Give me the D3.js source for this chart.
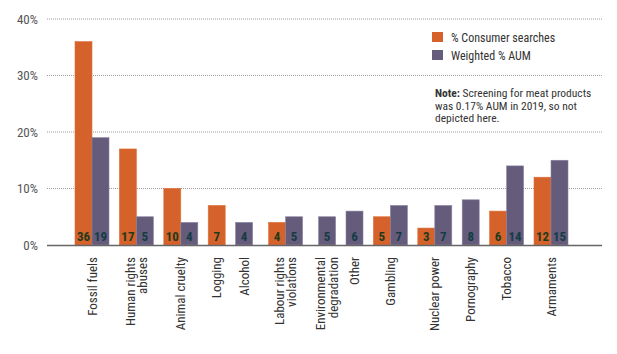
<!DOCTYPE html>
<html>
<head>
<meta charset="utf-8">
<script src="https://cdn.jsdelivr.net/npm/d3@7"></script>
<style>
  body { margin: 0; background: #fff; }
  text { font-family: "Liberation Sans Narrow", "Arial Narrow", "Roboto Condensed", "Liberation Sans", sans-serif; }
</style>
</head>
<body>
<svg id="chart"></svg>
<script>
let width = 617;
let height = 354;

// data (null = bar not drawn)
let categories = ["Fossil fuels", "Human rights abuses", "Animal cruelty", "Logging", "Alcohol",
    "Labour rights violations", "Environmental degradation", "Other", "Gambling",
    "Nuclear power", "Pornography", "Tobacco", "Armaments"];
let labelLines = [["Fossil fuels"], ["Human rights", "abuses"], ["Animal cruelty"], ["Logging"], ["Alcohol"],
    ["Labour rights", "violations"], ["Environmental", "degradation"], ["Other"], ["Gambling"],
    ["Nuclear power"], ["Pornography"], ["Tobacco"], ["Armaments"]];
let consumerSearches = [36, 17, 10, 7, null, 4, null, null, 5, 3, null, 6, 12];
let weightedAUM = [19, 5, 4, null, 4, 5, 5, 6, 7, 7, 8, 14, 15];
let yTicks = [0, 10, 20, 30, 40];
let seriesNames = ["% Consumer searches", "Weighted % AUM"];
let colors = ["#d4622a", "#655c7c"];
let labelColors = ["#1f3a1c", "#143b45"];

let plotLeft = 47, plotRight = 602, plotTop = 19, plotBottom = 245;

let svg = d3.select("#chart")
    .attr("width", width)
    .attr("height", height);

let y = d3.scaleLinear().domain([0, 40]).range([plotBottom, plotTop]);

// grid + y labels
svg.append("g")
    .selectAll("line")
    .data(yTicks.filter(d => d > 0))
    .enter().append("line")
    .attr("x1", plotLeft).attr("x2", plotRight)
    .attr("y1", d => y(d)).attr("y2", d => y(d))
    .attr("stroke", "#9a9a9a")
    .attr("stroke-width", 1)
    .attr("stroke-dasharray", "1,1");

svg.append("g")
    .selectAll("text")
    .data(yTicks)
    .enter().append("text")
    .attr("x", 38)
    .attr("y", d => y(d) + 4.5)
    .attr("text-anchor", "end")
    .attr("font-size", 13)
    .attr("fill", "#555")
    .text(d => d + "%");

// build bar list: only bars that exist take up space
let bars = [];
let groups = [];
let unit = 0;
let barW = 17, gap = 10.4, wideGap = 16;
let wideBefore = ["Labour rights violations", "Environmental degradation"];
categories.forEach(function (c, i) {
    if (i > 0) unit += (wideBefore.indexOf(c) >= 0 ? wideGap : gap);
    let start = unit;
    [consumerSearches[i], weightedAUM[i]].forEach(function (v, s) {
        if (v !== null) {
            bars.push({cat: c, series: s, value: v, pos: unit});
            unit += barW;
        }
    });
    groups.push({cat: c, lines: labelLines[i], center: (start + unit) / 2});
});

let x = d3.scaleLinear().domain([0, unit]).range([75, 75 + unit]);

svg.append("g")
    .selectAll("rect")
    .data(bars)
    .enter().append("rect")
    .attr("x", d => x(d.pos))
    .attr("y", d => y(d.value))
    .attr("width", barW)
    .attr("height", d => y(0) - y(d.value))
    .attr("fill", d => colors[d.series])
    .attr("stroke", d => d.series === 0 ? "#e0703a" : "#8a84a0")
    .attr("stroke-width", 0.6);

svg.append("g")
    .selectAll("text")
    .data(bars)
    .enter().append("text")
    .attr("x", d => x(d.pos) + barW / 2)
    .attr("y", 241)
    .attr("text-anchor", "middle")
    .attr("font-size", 13)
    .attr("font-weight", "bold")
    .attr("fill", d => labelColors[d.series])
    .text(d => d.value);

// baseline
svg.append("line")
    .attr("x1", plotLeft).attr("x2", plotRight)
    .attr("y1", y(0) + 0.5).attr("y2", y(0) + 0.5)
    .attr("stroke", "#666")
    .attr("stroke-width", 1.3);

// x labels, rotated
let xl = svg.append("g")
    .selectAll("text")
    .data(groups)
    .enter().append("text")
    .attr("transform", d => "translate(" + x(d.center) + ",257) rotate(-90)")
    .attr("text-anchor", "end")
    .attr("font-size", 13)
    .attr("fill", "#333");

xl.selectAll("tspan")
    .data(d => d.lines.map((t, k) => ({t: t, k: k, n: d.lines.length})))
    .enter().append("tspan")
    .attr("x", 0)
    .attr("y", d => 4.5 + (d.k - (d.n - 1) / 2) * 12.5)
    .text(d => d.t);

// legend
let legend = svg.append("g")
    .selectAll("g")
    .data(seriesNames)
    .enter().append("g")
    .attr("transform", (d, i) => "translate(432," + (32 + i * 18) + ")");

legend.append("rect")
    .attr("width", 11).attr("height", 10)
    .attr("fill", (d, i) => colors[i]);

legend.append("text")
    .attr("x", 19).attr("y", 9.5)
    .attr("font-size", 12)
    .attr("fill", "#333")
    .text(d => d);

// note, one text per line
let noteLines = [["Note:", " Screening for meat products"], ["", "was 0.17% AUM in 2019, so not"], ["", "depicted here."]];
let note = svg.append("g")
    .selectAll("text")
    .data(noteLines)
    .enter().append("text")
    .attr("x", 435)
    .attr("y", (d, i) => 97 + i * 12.5)
    .attr("font-size", 11.5)
    .attr("fill", "#333");
note.append("tspan").attr("font-weight", "bold").text(d => d[0]);
note.append("tspan").text(d => d[1]);
</script>
</body>
</html>
